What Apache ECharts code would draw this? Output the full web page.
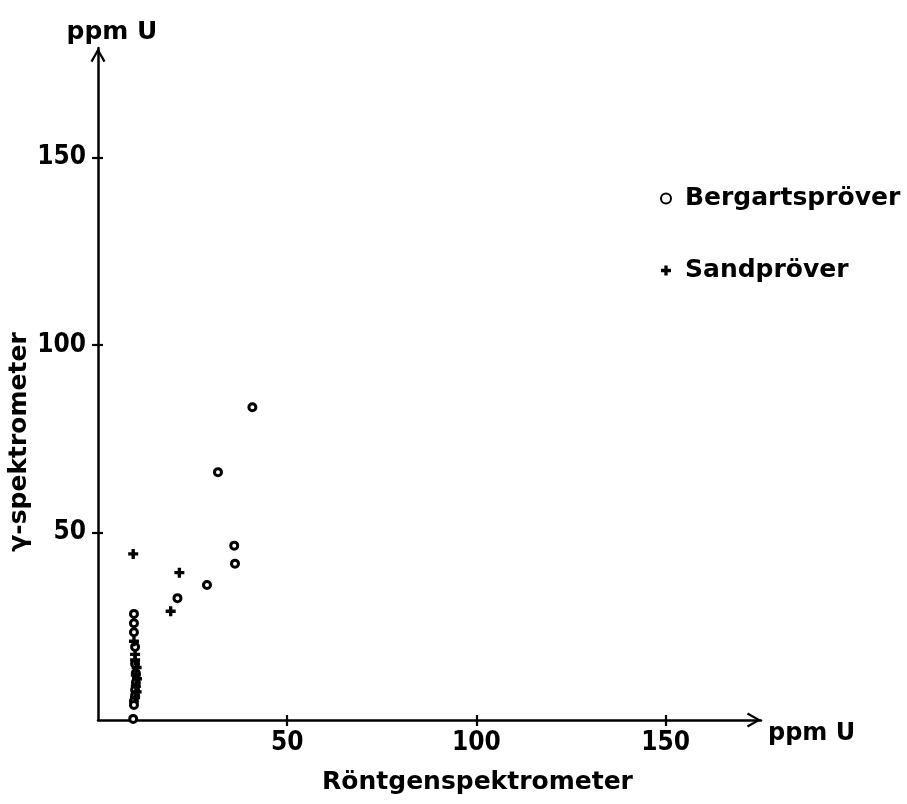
<!DOCTYPE html>
<html>
<head>
<meta charset="utf-8">
<script src="https://cdn.jsdelivr.net/npm/echarts@6/dist/echarts.min.js"></script>
<style>html,body{margin:0;padding:0;background:#fff}#c{width:907px;height:804px}</style>
</head>
<body>
<div id="c"></div>
<script>
// ---- data ----
var xTicks = [50, 100, 150];
var yTicks = [50, 100, 150];
var bergX = [9.5, 9.5, 9.5, 9.8, 9.8, 10.0, 10.0, 9.8, 9.8, 9.5, 9.5, 9.3, 21.0, 28.8, 31.7, 36.0, 36.2, 40.8];
var bergY = [28.3, 25.8, 23.4, 19.5, 15.0, 12.5, 10.0, 8.0, 6.5, 5.0, 4.0, 0.3, 32.5, 36.0, 66.1, 46.5, 41.7, 83.4];
var sandX = [9.3, 21.5, 19.2, 9.5, 9.8, 9.8, 10.2, 10.0, 10.3, 10.0, 10.2, 9.8];
var sandY = [44.3, 39.3, 29.0, 21.0, 17.5, 16.0, 14.0, 12.0, 11.0, 9.0, 7.5, 6.0];
var seriesNames = ['Bergartspröver', 'Sandpröver'];

function pairs(xs, ys) { return xs.map(function (x, i) { return [x, ys[i]]; }); }

var FONT = '"DejaVu Sans", sans-serif';
var NUMFONT = '"DejaVu Sans Condensed", "DejaVu Sans", sans-serif';
var chevron = 'path://M0,0 L8,14 L5.8,15.2 L0,4.6 L-5.8,15.2 L-8,14 Z';
var plus = 'path://M3,0h3v3h3v3h-3v3h-3v-3h-3v-3h3z';

var chart = echarts.init(document.getElementById('c'), null, { renderer: 'canvas' });
var lineStyle = { color: '#000', width: 2.5 };
var tickStyle = { color: '#000', width: 2.2 };

chart.setOption({
  animation: false,
  backgroundColor: '#fff',
  grid: { left: 98, right: 146, top: 48, bottom: 84, containLabel: false, outerBoundsMode: 'none' },
  legend: {
    orient: 'vertical', left: 655, top: 181, itemGap: 47,
    itemWidth: 10, itemHeight: 10,
    textStyle: { color: '#000', fontSize: 25, fontWeight: 'bold', fontFamily: FONT, padding: [0, 0, 0, 9] },
    data: seriesNames
  },
  xAxis: [{
    type: 'value', min: 0, max: 175.2, position: 'bottom',
    name: 'ppm U', nameLocation: 'end', nameGap: 7,
    nameTextStyle: { color: '#000', fontSize: 24, fontWeight: 'bold', fontFamily: FONT, verticalAlign: 'top', align: 'left', padding: [2, 0, 0, 0] },
    axisLine: { show: true, lineStyle: lineStyle, symbol: ['none', chevron], symbolSize: [15, 16], symbolOffset: [0, -7] },
    axisTick: { show: true, length: 6, lineStyle: tickStyle, customValues: xTicks },
    axisLabel: { show: true, margin: 10, customValues: xTicks, color: '#000', fontSize: 26, fontWeight: 'bold', fontFamily: NUMFONT },
    splitLine: { show: false }
  }, {
    type: 'value', min: 0, max: 175.2, position: 'bottom',
    name: 'Röntgenspektrometer', nameLocation: 'middle', nameGap: 50,
    nameTextStyle: { color: '#000', fontSize: 25, fontWeight: 'bold', fontFamily: FONT, padding: [0, 0, 0, 96] },
    axisLine: { show: false },
    axisTick: { show: true, inside: true, length: 5, lineStyle: tickStyle, customValues: xTicks },
    axisLabel: { show: false },
    splitLine: { show: false }
  }],
  yAxis: [{
    type: 'value', min: 0, max: 179.2, position: 'left',
    name: 'ppm U', nameLocation: 'end', nameGap: 3,
    nameTextStyle: { color: '#000', fontSize: 25, fontWeight: 'bold', fontFamily: FONT, padding: [0, 0, 0, 28] },
    axisLine: { show: true, lineStyle: lineStyle, symbol: ['none', chevron], symbolSize: [15, 16], symbolOffset: [0, -7] },
    axisTick: { show: true, length: 6, lineStyle: tickStyle, customValues: yTicks },
    axisLabel: { show: true, margin: 12, customValues: yTicks, color: '#000', fontSize: 26, fontWeight: 'bold', fontFamily: NUMFONT },
    splitLine: { show: false }
  }, {
    type: 'value', min: 0, max: 179.2, position: 'left',
    name: 'γ-spektrometer', nameLocation: 'middle', nameGap: 66,
    nameTextStyle: { color: '#000', fontSize: 25, fontWeight: 'bold', fontFamily: FONT, padding: [0, 116, 0, 0] },
    axisLine: { show: false },
    axisTick: { show: true, inside: true, length: 5, lineStyle: tickStyle, customValues: yTicks },
    axisLabel: { show: false },
    splitLine: { show: false }
  }],
  series: [{
    name: seriesNames[0], type: 'scatter', xAxisIndex: 0, yAxisIndex: 0,
    symbol: 'circle', symbolSize: 7,
    itemStyle: { color: '#fff', borderColor: '#000', borderWidth: 3, opacity: 1 },
    data: pairs(bergX, bergY), z: 3
  }, {
    name: seriesNames[1], type: 'scatter', xAxisIndex: 0, yAxisIndex: 0,
    symbol: plus, symbolSize: 10,
    itemStyle: { color: '#000', opacity: 1 },
    data: pairs(sandX, sandY), z: 4
  }]
});
</script>
</body>
</html>
